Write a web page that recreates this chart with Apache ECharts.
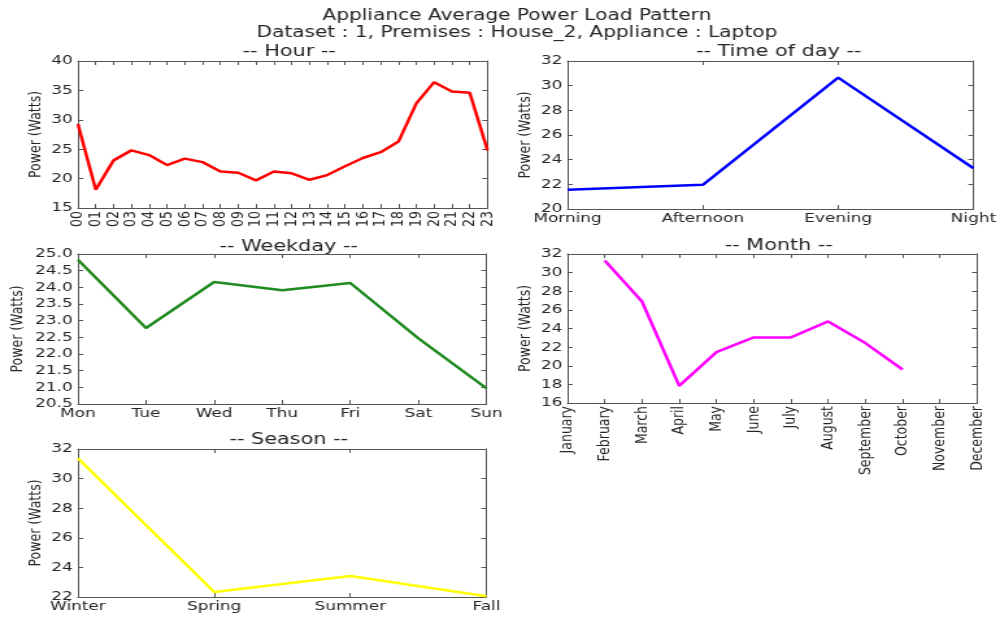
<!DOCTYPE html>
<html>
<head>
<meta charset="utf-8">
<script src="https://cdn.jsdelivr.net/npm/echarts@6/dist/echarts.min.js"></script>
<style>
  html, body { margin: 0; padding: 0; background: #fff; overflow: hidden; }
  #chart { width: 770px; height: 619px; transform: scaleX(1.2987); transform-origin: 0 0; }
</style>
</head>
<body>
<div id="chart"></div>
<script>
// Average power draw of the laptop, grouped five ways
const hours = ['00','01','02','03','04','05','06','07','08','09','10','11',
               '12','13','14','15','16','17','18','19','20','21','22','23'];
const hourPower = [29.3, 18.1, 23.1, 24.8, 24.0, 22.3, 23.4, 22.8, 21.2, 21.0, 19.7, 21.2,
                   20.9, 19.8, 20.6, 22.1, 23.5, 24.5, 26.3, 32.8, 36.4, 34.8, 34.6, 24.8];

const dayParts = ['Morning', 'Afternoon', 'Evening', 'Night'];
const dayPartPower = [21.56, 21.96, 30.65, 23.3];

const weekdays = ['Mon', 'Tue', 'Wed', 'Thu', 'Fri', 'Sat', 'Sun'];
const weekdayPower = [24.83, 22.78, 24.16, 23.91, 24.13, 22.47, 20.97];

const months = ['January', 'February', 'March', 'April', 'May', 'June', 'July',
                'August', 'September', 'October', 'November', 'December'];
const monthPower = [null, 31.3, 26.9, 17.84, 21.46, 23.04, 23.04, 24.76, 22.43, 19.6, null, null];

const seasons = ['Winter', 'Spring', 'Summer', 'Fall'];
const seasonPower = [31.37, 22.34, 23.42, 22.05];

const FONT = 'DejaVu Sans, sans-serif';
const TXT = '#262626';
const FRAME = '#555';

// Panel boxes (in the unscaled 770px-wide coordinate space)
const panels = [
  { title: '-- Hour --',        cats: hours,    data: hourPower,    color: '#ff0000', box: [60, 61, 315.4, 147],  y: [15, 40, 5],   dec: 0, rot: 90, gap: 26, titleTop: 39 },
  { title: '-- Time of day --', cats: dayParts, data: dayPartPower, color: '#0000ff', box: [437, 61, 315.3, 148], y: [20, 32, 2],   dec: 0, rot: 0,  gap: 26, titleTop: 39 },
  { title: '-- Weekday --',     cats: weekdays, data: weekdayPower, color: '#1f8a1f', box: [60, 254, 314.6, 150], y: [20.5, 25, 0.5], dec: 1, rot: 0, gap: 40, titleTop: 234 },
  { title: '-- Month --',       cats: months,   data: monthPower,   color: '#ff00ff', box: [437, 254, 315.3, 149], y: [16, 32, 2],  dec: 0, rot: 90, gap: 26, titleTop: 233 },
  { title: '-- Season --',      cats: seasons,  data: seasonPower,  color: '#ffff00', box: [60, 449, 314.6, 148], y: [22, 32, 2],   dec: 0, rot: 0,  gap: 26, titleTop: 427 }
];

const grid = [], xAxis = [], yAxis = [], series = [];
const title = [{
  text: 'Appliance Average Power Load Pattern\nDataset : 1, Premises : House_2, Appliance : Laptop',
  left: 393, top: 2, textAlign: 'center',
  textStyle: { fontFamily: FONT, fontSize: 15.5, fontWeight: 'normal', color: TXT, lineHeight: 17.5 }
}];

const tick = { show: true, inside: true, length: 4, lineStyle: { color: FRAME, width: 1 } };
const line = { show: true, lineStyle: { color: FRAME, width: 1 } };

panels.forEach((p, i) => {
  const [l, t, w, h] = p.box;
  grid.push({ left: l, top: t, width: w, height: h, containLabel: false });
  title.push({
    text: p.title, left: l + w / 2, top: p.titleTop, textAlign: 'center',
    textStyle: { fontFamily: FONT, fontSize: 16, fontWeight: 'normal', color: TXT }
  });
  // bottom category axis with labels
  xAxis.push({
    type: 'category', gridIndex: i, data: p.cats, boundaryGap: false, position: 'bottom',
    axisLine: line, axisTick: Object.assign({ alignWithLabel: true, interval: 0 }, tick),
    axisLabel: { interval: 0, rotate: p.rot, margin: 3, fontFamily: FONT, fontSize: p.rot ? 12.5 : 13, color: TXT },
    splitLine: { show: false }
  });
  // top frame edge with inward ticks
  xAxis.push({
    type: 'category', gridIndex: i, data: p.cats, boundaryGap: false, position: 'top',
    axisLine: line, axisTick: Object.assign({ interval: 0 }, tick),
    axisLabel: { show: false }, splitLine: { show: false }
  });
  yAxis.push({
    type: 'value', gridIndex: i, min: p.y[0], max: p.y[1], interval: p.y[2], position: 'left',
    name: 'Power (Watts)', nameLocation: 'middle', nameRotate: 90, nameGap: p.gap,
    nameTextStyle: { fontFamily: FONT, fontSize: 12.5, color: TXT },
    axisLine: line, axisTick: tick,
    axisLabel: { margin: 4, fontFamily: FONT, fontSize: 13, color: TXT,
                 formatter: v => v.toFixed(p.dec) },
    splitLine: { show: false }
  });
  yAxis.push({
    type: 'value', gridIndex: i, min: p.y[0], max: p.y[1], interval: p.y[2], position: 'right',
    axisLine: line, axisTick: tick, axisLabel: { show: false }, splitLine: { show: false }
  });
  series.push({
    type: 'line', xAxisIndex: 2 * i, yAxisIndex: 2 * i, data: p.data,
    showSymbol: false, connectNulls: false,
    lineStyle: { color: p.color, width: 2.5 }, itemStyle: { color: p.color },
    animation: false
  });
});

const chart = echarts.init(document.getElementById('chart'), null, { renderer: 'canvas' });
chart.setOption({ backgroundColor: '#fff', animation: false, title, grid, xAxis, yAxis, series });
</script>
</body>
</html>
